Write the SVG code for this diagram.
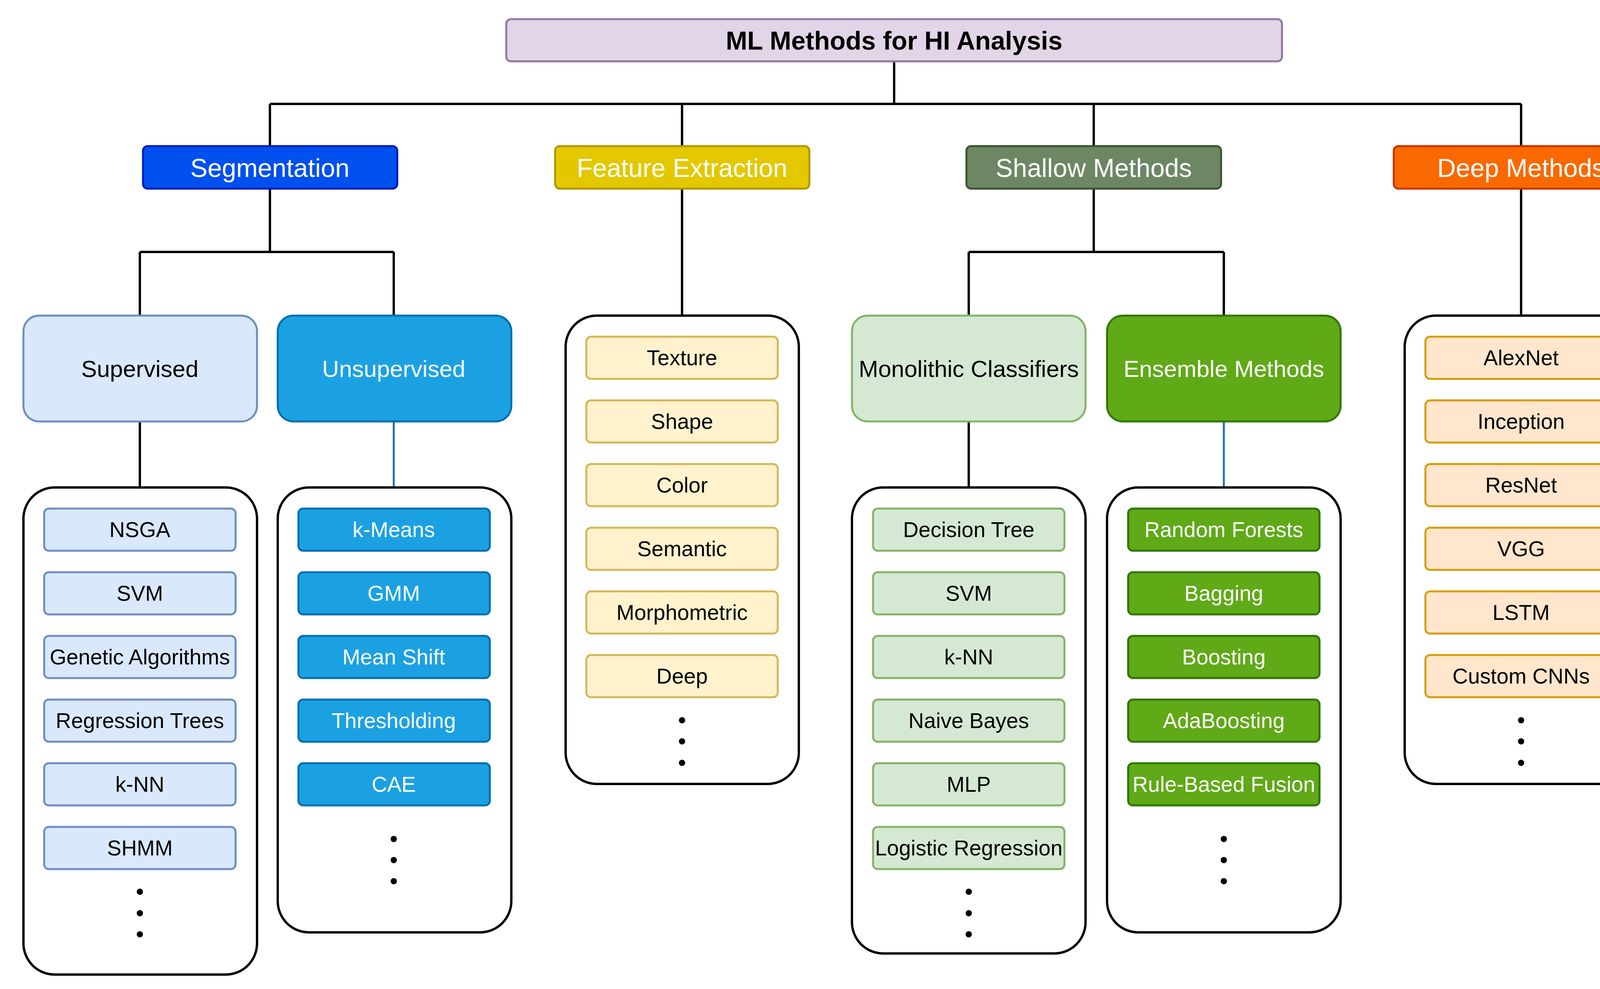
<svg xmlns="http://www.w3.org/2000/svg" width="4231" height="2532" viewBox="0 0 4231 2532">
<style>
text{font-family:"Liberation Sans",Arial,sans-serif;text-anchor:middle;dominant-baseline:central}
.c{fill:none;stroke:#000;stroke-width:6}
.cb{fill:none;stroke:#1f6fb0;stroke-width:5}
.cat{font-size:66px;fill:#fff}
.sub{font-size:60px}
.it{font-size:55px}
.box{fill:#fff;stroke:#000;stroke-width:6}
.dot{fill:#000}
</style>
<g id="connectors">
<path class="c" d="M2289 157V266M691 266H3894M691 266V374M1746 266V374M2800 266V374M3894 266V374"/>
<path class="c" d="M691 483V645M358 645H1008M358 645V808M1008 645V808"/>
<path class="c" d="M1746 483V808"/>
<path class="c" d="M2800 483V645M2480 645H3133M2480 645V808M3133 645V808"/>
<path class="c" d="M3894 483V808"/>
<path class="c" d="M358 1079V1248M2480 1079V1248"/>
<path class="cb" d="M1008 1079V1248M3133 1079V1248"/>
</g>
<g id="title"><rect x="1296" y="49" width="1986" height="108" rx="12" fill="#e1d5e7" stroke="#9673a6" stroke-width="5"/><text x="2289" y="104" font-size="66" font-weight="bold">ML Methods for HI Analysis</text></g>
<g id="segmentation"><rect x="366" y="374" width="651" height="109" rx="12" fill="#0050ef" stroke="#001dbc" stroke-width="5"/><text class="cat" x="691" y="430">Segmentation</text></g>
<g id="feature"><rect x="1421" y="374" width="651" height="109" rx="12" fill="#e3c800" stroke="#b09500" stroke-width="5"/><text class="cat" x="1746" y="430">Feature Extraction</text></g>
<g id="shallow"><rect x="2474" y="374" width="652" height="109" rx="12" fill="#6d8764" stroke="#3a5431" stroke-width="5"/><text class="cat" x="2800" y="430">Shallow Methods</text></g>
<g id="deep"><rect x="3568" y="374" width="652" height="109" rx="12" fill="#fa6800" stroke="#c73500" stroke-width="5"/><text class="cat" x="3894" y="430">Deep Methods</text></g>
<g id="supervised"><rect x="60" y="808" width="598" height="271" rx="40" fill="#dae8fc" stroke="#6c8ebf" stroke-width="5"/><text class="sub" x="358" y="944">Supervised</text></g>
<g id="unsupervised"><rect x="711" y="808" width="598" height="271" rx="40" fill="#1ba1e2" stroke="#006eaf" stroke-width="5"/><text class="sub" x="1008" y="944" fill="#fff">Unsupervised</text></g>
<g id="monolithic"><rect x="2181" y="808" width="598" height="271" rx="40" fill="#d5e8d4" stroke="#82b366" stroke-width="5"/><text class="sub" x="2480" y="944">Monolithic Classifiers</text></g>
<g id="ensemble"><rect x="2834" y="808" width="598" height="271" rx="40" fill="#60a917" stroke="#2d7600" stroke-width="5"/><text class="sub" x="3133" y="944" fill="#fff">Ensemble Methods</text></g>

<g id="supervised-list"><rect class="box" x="60" y="1248" width="598" height="1247" rx="80"/>
<g fill="#dae8fc" stroke="#6c8ebf" stroke-width="5">
<rect x="113" y="1302" width="490" height="108" rx="12"/><rect x="113" y="1465" width="490" height="108" rx="12"/><rect x="113" y="1628" width="490" height="108" rx="12"/><rect x="113" y="1791" width="490" height="108" rx="12"/><rect x="113" y="1954" width="490" height="108" rx="12"/><rect x="113" y="2117" width="490" height="108" rx="12"/></g>
<g class="it"><text x="358" y="1356">NSGA</text><text x="358" y="1519">SVM</text><text x="358" y="1682">Genetic Algorithms</text><text x="358" y="1845">Regression Trees</text><text x="358" y="2008">k-NN</text><text x="358" y="2171">SHMM</text></g>
<circle class="dot" cx="358" cy="2283" r="8"/><circle class="dot" cx="358" cy="2338" r="8"/><circle class="dot" cx="358" cy="2392" r="8"/></g>

<g id="unsupervised-list"><rect class="box" x="711" y="1248" width="598" height="1139" rx="80"/>
<g fill="#1ba1e2" stroke="#006eaf" stroke-width="5">
<rect x="764" y="1302" width="490" height="108" rx="12"/><rect x="764" y="1465" width="490" height="108" rx="12"/><rect x="764" y="1628" width="490" height="108" rx="12"/><rect x="764" y="1791" width="490" height="108" rx="12"/><rect x="764" y="1954" width="490" height="108" rx="12"/></g>
<g class="it" fill="#fff"><text x="1008" y="1356">k-Means</text><text x="1008" y="1519">GMM</text><text x="1008" y="1682">Mean Shift</text><text x="1008" y="1845">Thresholding</text><text x="1008" y="2008">CAE</text></g>
<circle class="dot" cx="1008" cy="2148" r="8"/><circle class="dot" cx="1008" cy="2202" r="8"/><circle class="dot" cx="1008" cy="2256" r="8"/></g>

<g id="feature-list"><rect class="box" x="1448" y="808" width="597" height="1199" rx="80"/>
<g fill="#fff2cc" stroke="#d6b656" stroke-width="5">
<rect x="1501" y="862" width="490" height="108" rx="12"/><rect x="1501" y="1025" width="490" height="108" rx="12"/><rect x="1501" y="1188" width="490" height="108" rx="12"/><rect x="1501" y="1351" width="490" height="108" rx="12"/><rect x="1501" y="1514" width="490" height="108" rx="12"/><rect x="1501" y="1677" width="490" height="108" rx="12"/></g>
<g class="it"><text x="1746" y="916">Texture</text><text x="1746" y="1079">Shape</text><text x="1746" y="1242">Color</text><text x="1746" y="1405">Semantic</text><text x="1746" y="1568">Morphometric</text><text x="1746" y="1731">Deep</text></g>
<circle class="dot" cx="1746" cy="1844" r="8"/><circle class="dot" cx="1746" cy="1898" r="8"/><circle class="dot" cx="1746" cy="1953" r="8"/></g>

<g id="monolithic-list"><rect class="box" x="2181" y="1248" width="598" height="1193" rx="80"/>
<g fill="#d5e8d4" stroke="#82b366" stroke-width="5">
<rect x="2235" y="1302" width="490" height="108" rx="12"/><rect x="2235" y="1465" width="490" height="108" rx="12"/><rect x="2235" y="1628" width="490" height="108" rx="12"/><rect x="2235" y="1791" width="490" height="108" rx="12"/><rect x="2235" y="1954" width="490" height="108" rx="12"/><rect x="2235" y="2117" width="490" height="108" rx="12"/></g>
<g class="it"><text x="2480" y="1356">Decision Tree</text><text x="2480" y="1519">SVM</text><text x="2480" y="1682">k-NN</text><text x="2480" y="1845">Naive Bayes</text><text x="2480" y="2008">MLP</text><text x="2480" y="2171">Logistic Regression</text></g>
<circle class="dot" cx="2480" cy="2283" r="8"/><circle class="dot" cx="2480" cy="2338" r="8"/><circle class="dot" cx="2480" cy="2392" r="8"/></g>

<g id="ensemble-list"><rect class="box" x="2834" y="1248" width="598" height="1139" rx="80"/>
<g fill="#60a917" stroke="#2d7600" stroke-width="5">
<rect x="2888" y="1302" width="490" height="108" rx="12"/><rect x="2888" y="1465" width="490" height="108" rx="12"/><rect x="2888" y="1628" width="490" height="108" rx="12"/><rect x="2888" y="1791" width="490" height="108" rx="12"/><rect x="2888" y="1954" width="490" height="108" rx="12"/></g>
<g class="it" fill="#fff"><text x="3133" y="1356">Random Forests</text><text x="3133" y="1519">Bagging</text><text x="3133" y="1682">Boosting</text><text x="3133" y="1845">AdaBoosting</text><text x="3133" y="2008">Rule-Based Fusion</text></g>
<circle class="dot" cx="3133" cy="2148" r="8"/><circle class="dot" cx="3133" cy="2202" r="8"/><circle class="dot" cx="3133" cy="2256" r="8"/></g>

<g id="deep-list"><rect class="box" x="3596" y="808" width="597" height="1199" rx="80"/>
<g fill="#ffe6cc" stroke="#d79b00" stroke-width="5">
<rect x="3649" y="862" width="490" height="108" rx="12"/><rect x="3649" y="1025" width="490" height="108" rx="12"/><rect x="3649" y="1188" width="490" height="108" rx="12"/><rect x="3649" y="1351" width="490" height="108" rx="12"/><rect x="3649" y="1514" width="490" height="108" rx="12"/><rect x="3649" y="1677" width="490" height="108" rx="12"/></g>
<g class="it"><text x="3894" y="916">AlexNet</text><text x="3894" y="1079">Inception</text><text x="3894" y="1242">ResNet</text><text x="3894" y="1405">VGG</text><text x="3894" y="1568">LSTM</text><text x="3894" y="1731">Custom CNNs</text></g>
<circle class="dot" cx="3894" cy="1844" r="8"/><circle class="dot" cx="3894" cy="1898" r="8"/><circle class="dot" cx="3894" cy="1953" r="8"/></g>
</svg>
